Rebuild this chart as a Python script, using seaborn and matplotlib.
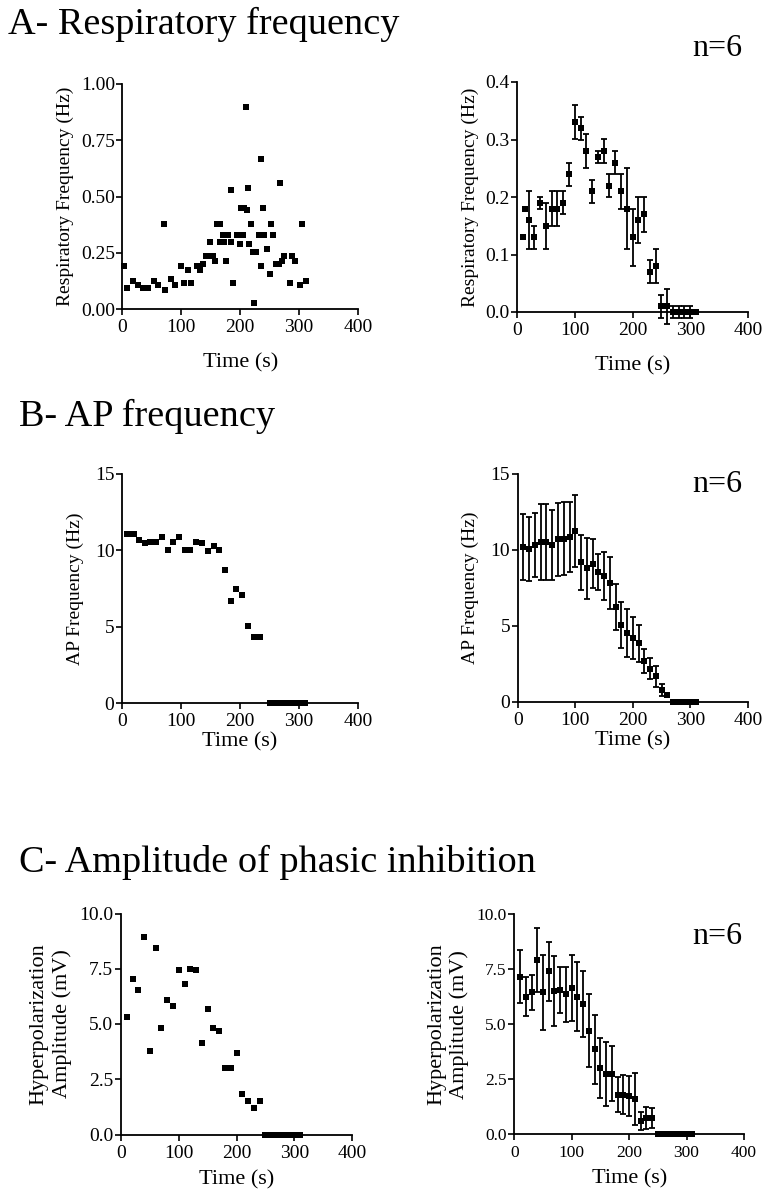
import numpy as np
import pandas as pd
import matplotlib
matplotlib.use("Agg")
import matplotlib.pyplot as plt
import seaborn as sns

# ---------------- data ----------------
# A - respiratory frequency, single cell
a_left_t = [3, 8, 18, 26, 35, 43, 53, 61, 70, 72, 83, 90, 99, 104, 112, 117, 126, 132, 137, 142,
            149, 153, 157, 149, 161, 165, 166, 170, 172, 176, 180, 184, 185, 188, 195, 199, 205, 202, 207, 210,
            211, 214, 215, 218, 221, 224, 227, 231, 235, 236, 239, 241, 245, 251, 253, 256, 261, 266, 268, 271,
            275, 284, 288, 293, 302, 305, 312]
a_left_v = [0.19, 0.095, 0.125, 0.105, 0.095, 0.095, 0.125, 0.105, 0.38, 0.085, 0.135, 0.105, 0.19, 0.115, 0.175, 0.115, 0.19, 0.175, 0.2, 0.235,
            0.235, 0.235, 0.215, 0.3, 0.38, 0.38, 0.3, 0.33, 0.3, 0.215, 0.33, 0.53, 0.3, 0.115, 0.33, 0.29, 0.33, 0.45, 0.45, 0.9,
            0.44, 0.54, 0.29, 0.38, 0.255, 0.025, 0.255, 0.33, 0.665, 0.19, 0.45, 0.33, 0.265, 0.155, 0.38, 0.33, 0.2, 0.2, 0.56, 0.215,
            0.235, 0.115, 0.235, 0.215, 0.105, 0.38, 0.125]

# A - respiratory frequency, mean +- SEM (n=6)
a_right_t = [10, 13, 20, 30, 40, 50, 60, 70, 80, 90, 100, 110, 120, 130, 140, 150, 160, 170, 180, 190,
             200, 210, 220, 230, 240, 250, 260, 270, 280, 290, 300, 310]
a_right_m = [0.13, 0.18, 0.16, 0.13, 0.19, 0.15, 0.18, 0.18, 0.19, 0.24, 0.33, 0.32, 0.28, 0.21, 0.27, 0.28, 0.22, 0.26, 0.21, 0.18,
             0.13, 0.16, 0.17, 0.07, 0.08, 0.01, 0.01, 0.0, 0.0, 0.0, 0.0, 0.0]
a_right_e = [0.0, 0.0, 0.05, 0.02, 0.01, 0.04, 0.03, 0.03, 0.02, 0.02, 0.03, 0.02, 0.03, 0.02, 0.01, 0.02, 0.02, 0.02, 0.03, 0.07,
             0.05, 0.04, 0.03, 0.02, 0.03, 0.02, 0.03, 0.01, 0.01, 0.01, 0.01, 0.0]

# B - AP frequency, single cell
b_left_t = [8, 15, 20, 29, 39, 48, 58, 68, 78, 87, 97, 107, 116, 126, 136, 146, 156, 165, 175, 185,
            194, 204, 214, 224, 234, 250, 260, 270, 280, 290, 300, 310]
b_left_v = [11.1, 11.1, 11.1, 10.7, 10.45, 10.55, 10.55, 10.9, 10.0, 10.55, 10.9, 10.0, 10.0, 10.55, 10.45, 9.95, 10.3, 10.0, 8.7, 6.65,
            7.5, 7.05, 5.05, 4.35, 4.35, 0, 0, 0, 0, 0, 0, 0]

# B - AP frequency, mean +- SEM (n=6)
b_right_t = [10, 20, 30, 40, 50, 60, 70, 80, 90, 100, 110, 120, 130, 140, 150, 160, 170, 180, 190, 200,
             210, 220, 230, 240, 250, 260, 270, 280, 290, 300, 310]
b_right_m = [10.2, 10.05, 10.35, 10.55, 10.55, 10.35, 10.7, 10.75, 10.85, 11.25, 9.2, 8.8, 9.1, 8.55, 8.3, 7.85, 6.25, 5.05, 4.55, 4.2,
             3.85, 2.7, 2.2, 1.7, 0.8, 0.45, 0, 0, 0, 0, 0]
b_right_e = [2.2, 2.1, 2.1, 2.5, 2.5, 2.3, 2.4, 2.4, 2.3, 2.4, 1.8, 2.0, 1.6, 1.2, 1.6, 1.7, 1.5, 1.5, 1.6, 1.4,
             1.2, 0.8, 0.7, 0.7, 0.4, 0, 0, 0, 0, 0, 0]

# C - amplitude of phasic inhibition, single cell
c_left_t = [10, 20, 30, 40, 50, 60, 70, 80, 90, 100, 110, 120, 130, 140, 150, 160, 170, 180, 190, 200,
            210, 220, 230, 240, 250, 260, 270, 280, 290, 300, 310]
c_left_v = [5.3, 7.05, 6.55, 8.95, 3.8, 8.45, 4.8, 6.1, 5.8, 7.45, 6.8, 7.5, 7.45, 4.15, 5.7, 4.8, 4.7, 3.0, 3.0, 3.7,
            1.85, 1.5, 1.2, 1.5, 0, 0, 0, 0, 0, 0, 0]

# C - amplitude, mean +- SEM (n=6)
c_right_t = [10, 20, 30, 40, 50, 60, 70, 80, 90, 100, 110, 120, 130, 140, 150, 160, 170, 180, 190, 200,
             210, 220, 230, 240, 250, 260, 270, 280, 290, 300, 310]
c_right_m = [7.15, 6.25, 6.45, 7.9, 6.45, 7.4, 6.5, 6.55, 6.35, 6.65, 6.25, 5.9, 4.7, 3.85, 3.0, 2.75, 2.75, 1.8, 1.8, 1.75,
             1.6, 0.6, 0.75, 0.75, 0, 0, 0, 0, 0, 0, 0]
c_right_e = [1.2, 0.9, 0.8, 1.45, 1.7, 1.35, 1.6, 1.05, 1.25, 1.5, 1.55, 1.5, 1.65, 1.55, 1.35, 1.45, 1.25, 0.8, 0.9, 0.9,
             1.2, 0.4, 0.5, 0.45, 0, 0, 0, 0, 0, 0, 0]

x_ticks = [0, 100, 200, 300, 400]
a_left_yticks = [0.00, 0.25, 0.50, 0.75, 1.00]
a_right_yticks = [0.0, 0.1, 0.2, 0.3, 0.4]
b_yticks = [0, 5, 10, 15]
c_yticks = [0.0, 2.5, 5.0, 7.5, 10.0]

titles = ["A- Respiratory frequency", "B- AP frequency", "C- Amplitude of phasic inhibition"]

# ---------------- style ----------------
sns.set_style("ticks")
plt.rcParams["font.family"] = ["Liberation Serif", "DejaVu Serif"]
for key in ["text.color", "axes.labelcolor", "xtick.color", "ytick.color", "axes.edgecolor"]:
    plt.rcParams[key] = "black"
plt.rcParams["axes.linewidth"] = 1.3
plt.rcParams["xtick.major.width"] = 1.2
plt.rcParams["ytick.major.width"] = 1.2
plt.rcParams["xtick.major.size"] = 4
plt.rcParams["ytick.major.size"] = 4
plt.rcParams["xtick.direction"] = "out"
plt.rcParams["ytick.direction"] = "out"

W, H = 765, 1199
fig = plt.figure(figsize=(W / 100, H / 100), dpi=100)


def box(x0, x1, ytop, ybot):
    return [x0 / W, 1 - ybot / H, (x1 - x0) / W, (ybot - ytop) / H]


def setup(ax, ymax, yticks, yfmt, ylabel, xpad, ypad, tsize=14, ysize=14):
    ax.set_xlim(0, 400)
    ax.set_ylim(0, ymax)
    ax.set_xticks(x_ticks)
    ax.set_xticklabels([str(v) for v in x_ticks])
    ax.set_yticks(yticks)
    ax.set_yticklabels([yfmt.format(v) for v in yticks])
    ax.tick_params(axis="x", labelsize=tsize, pad=3.5)
    ax.tick_params(axis="y", labelsize=tsize, pad=1.5)
    ax.set_xlabel("Time (s)", fontsize=16, labelpad=xpad)
    ax.set_ylabel(ylabel, fontsize=ysize, labelpad=ypad, linespacing=1.25)
    sns.despine(ax=ax)
    for s in ax.spines.values():
        s.set_color("black")
        s.set_zorder(1)


def single(ax, t, v, ms=19):
    df = pd.DataFrame({"t": t, "v": v})
    sns.scatterplot(data=df, x="t", y="v", ax=ax, marker="s", color="black",
                    s=ms, linewidth=0, clip_on=False, zorder=3, legend=False)


def mean_sem(ax, t, m, e, ms=13):
    df = pd.DataFrame({"t": t, "m": m, "e": e})
    ax.errorbar(df["t"], df["m"], yerr=df["e"], fmt="none", ecolor="black",
                elinewidth=1.3, capsize=2.0, capthick=1.3, clip_on=False, zorder=2)
    sns.scatterplot(data=df, x="t", y="m", ax=ax, marker="s", color="black",
                    s=ms, linewidth=0, clip_on=False, zorder=3, legend=False)


# ----- A -----
ax1 = fig.add_axes(box(122.5, 358, 84, 309))
single(ax1, a_left_t, a_left_v)
setup(ax1, 1.0, a_left_yticks, "{:.2f}", "Respiratory Frequency (Hz)", 12, 5)

ax2 = fig.add_axes(box(517, 748, 82, 312))
mean_sem(ax2, a_right_t, a_right_m, a_right_e)
setup(ax2, 0.4, a_right_yticks, "{:.1f}", "Respiratory Frequency (Hz)", 12, 4)

# ----- B -----
ax3 = fig.add_axes(box(122, 358, 474, 703))
single(ax3, b_left_t, b_left_v)
setup(ax3, 15, b_yticks, "{:d}", "AP Frequency (Hz)", 1, 8)

ax4 = fig.add_axes(box(517.7, 748, 474, 702))
mean_sem(ax4, b_right_t, b_right_m, b_right_e)
setup(ax4, 15, b_yticks, "{:d}", "AP Frequency (Hz)", 1, 8)

# ----- C -----
ax5 = fig.add_axes(box(121, 352, 913.5, 1134.5))
single(ax5, c_left_t, c_left_v)
setup(ax5, 10, c_yticks, "{:.1f}", "Hyperpolarization\nAmplitude (mV)", 6, 5, tsize=14, ysize=16)

ax6 = fig.add_axes(box(514.3, 744, 914, 1134.3))
mean_sem(ax6, c_right_t, c_right_m, c_right_e)
setup(ax6, 10, c_yticks, "{:.1f}", "Hyperpolarization\nAmplitude (mV)", 6, 5, tsize=12.5, ysize=16)

# ----- titles and n=6 -----
fig.text(8 / W, 1 - 24 / H, titles[0], fontsize=27.5, ha="left", va="center")
fig.text(19 / W, 1 - 416 / H, titles[1], fontsize=27.5, ha="left", va="center")
fig.text(19 / W, 1 - 862 / H, titles[2], fontsize=27.5, ha="left", va="center")
for y in [48, 484, 936]:
    fig.text(692 / W, 1 - y / H, "n=6", fontsize=23, ha="left", va="center")

fig.savefig("out.png", dpi=100)
